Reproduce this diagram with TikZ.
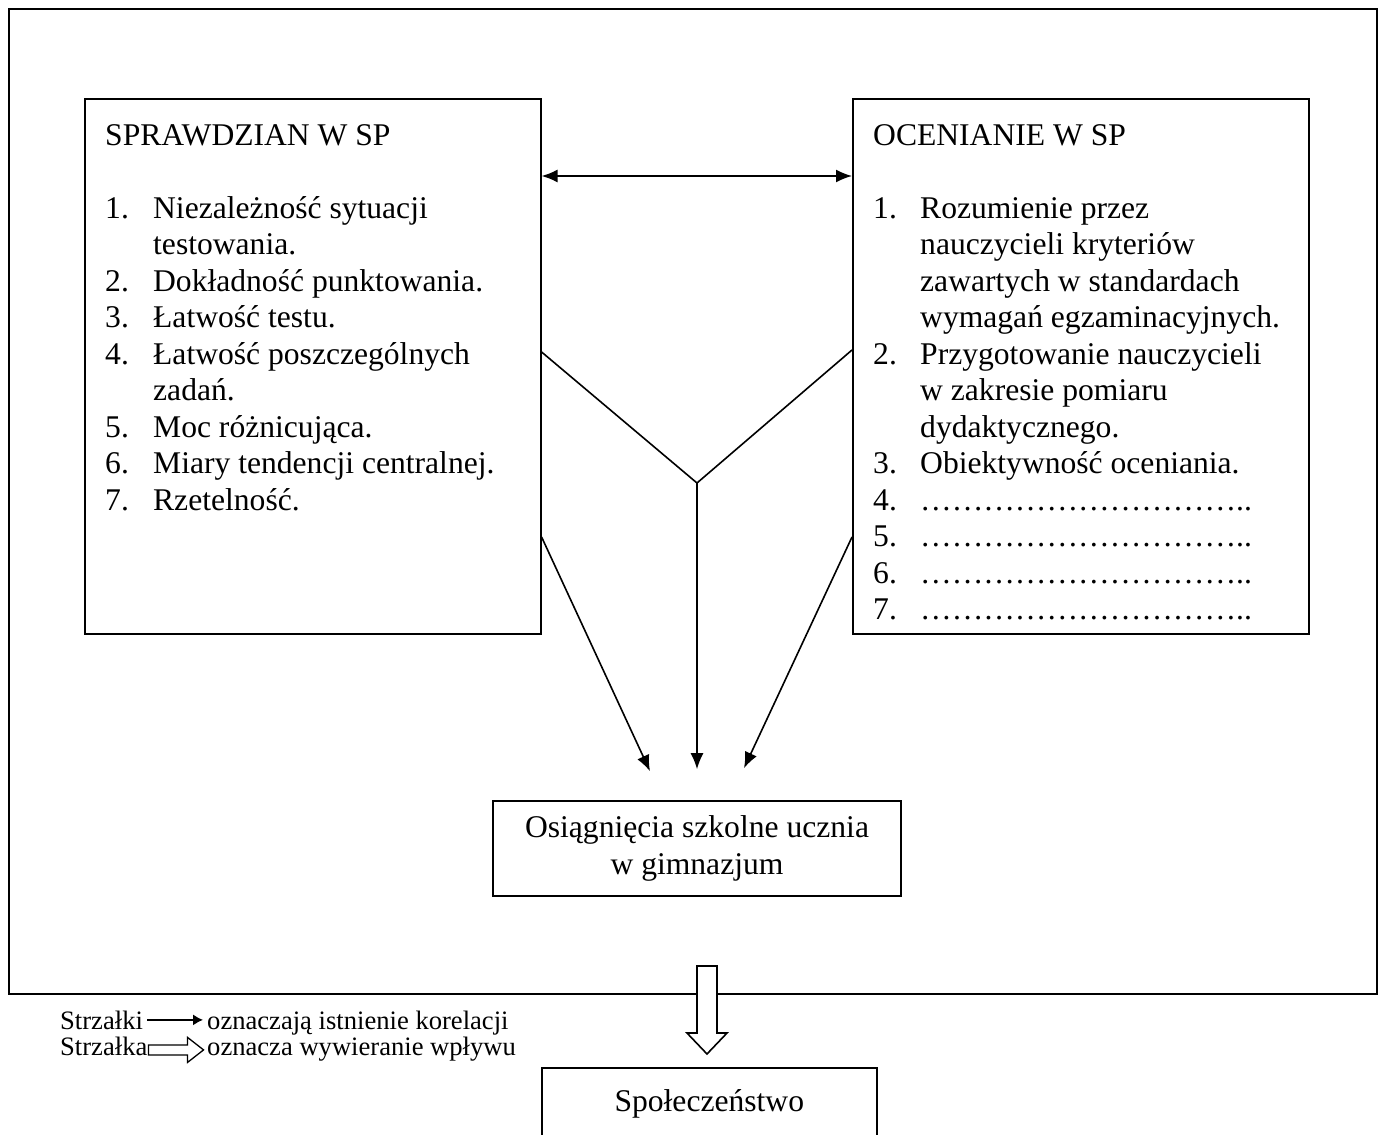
\documentclass[tikz,border=0pt]{standalone}
\usepackage{fontspec}
\setmainfont{Liberation Serif}
\usetikzlibrary{arrows.meta}
\tikzset{>={Latex[length=16pt,width=13pt]}}
\tikzset{
  box/.style={draw, line width=1.6pt, inner sep=0pt},
  bigtext/.style={font=\fontsize{31.6}{36.5}\selectfont, inner sep=0pt},
  legendtext/.style={font=\fontsize{26.6}{27}\selectfont, inner xsep=4pt, inner ysep=0pt},
  link/.style={line width=1.6pt},
  smalltip/.style={line width=1.3pt, -{Latex[length=10pt,width=11pt]}}
}
\newcommand{\wielokropek}{…}
\newcommand{\miejsce}{\wielokropek\wielokropek\wielokropek\wielokropek\wielokropek\wielokropek\wielokropek\wielokropek\wielokropek\wielokropek..}

\begin{document}
\begin{tikzpicture}[x=1pt, y=-1pt]
  \useasboundingbox (0,0) rectangle (1382,1135);
  \node[box, anchor=north west, minimum width=1368pt, minimum height=985pt] (frame) at (8,8) {};
  \node[box, anchor=north west, minimum width=456pt, minimum height=535pt] (sprawdzian) at (84,98) {};
  \node[box, anchor=north west, minimum width=456pt, minimum height=535pt] (ocenianie) at (852,98) {};
  \node[box, bigtext, align=center, minimum width=408pt, minimum height=95pt] (osiagniecia) at (697,848.5) {Osiągnięcia szkolne ucznia\\ w gimnazjum};
  \node[box, bigtext, anchor=north west, minimum width=335pt, minimum height=72pt] (spoleczenstwo) at (541,1067) {Społeczeństwo};

  \node[bigtext, anchor=north west] (sprawdzianTxt) at (105,119.5) {\begin{tabular}{@{}p{48pt}@{}l@{}}
    \multicolumn{2}{@{}l@{}}{SPRAWDZIAN W SP}\\
    & \\
    1. & Niezależność sytuacji\\
    & testowania.\\
    2. & Dokładność punktowania.\\
    3. & Łatwość testu.\\
    4. & Łatwość poszczególnych\\
    & zadań.\\
    5. & Moc różnicująca.\\
    6. & Miary tendencji centralnej.\\
    7. & Rzetelność.
  \end{tabular}};
  \begin{scope}
    \clip (ocenianie.north west) rectangle ([yshift=15pt]ocenianie.south east);
    \node[bigtext, anchor=north west] (ocenianieTxt) at (873,119.5) {\begin{tabular}{@{}p{47pt}@{}l@{}}
      \multicolumn{2}{@{}l@{}}{OCENIANIE W SP}\\
      & \\
      1. & Rozumienie przez\\
      & nauczycieli kryteriów\\
      & zawartych w standardach\\
      & wymagań egzaminacyjnych.\\
      2. & Przygotowanie nauczycieli\\
      & w zakresie pomiaru\\
      & dydaktycznego.\\
      3. & Obiektywność oceniania.\\
      4. & \miejsce\\
      5. & \miejsce\\
      6. & \miejsce\\
      7. & \miejsce
    \end{tabular}};
  \end{scope}

  \coordinate (vertex) at (697,483);
  \draw[link, <->] ([yshift=-78pt]sprawdzian.north east) -- ([yshift=-78pt]ocenianie.north west);
  \draw[link] ([yshift=-254pt]sprawdzian.north east) -- (vertex) -- ([yshift=-252pt]ocenianie.north west);
  \draw[link, ->] (vertex) -- ([yshift=31pt]osiagniecia.north);
  \draw[link, ->] ([yshift=-439pt]sprawdzian.north east) -- ([xshift=-47pt,yshift=29pt]osiagniecia.north);
  \draw[link, ->] ([yshift=-439pt]ocenianie.north west) -- ([xshift=47pt,yshift=32pt]osiagniecia.north);

  \coordinate (flow) at (707,966);
  \draw[link, fill=white] ([xshift=-10pt]flow) -- ++(0,67) -- ++(-10,0) -- ++(20,21) -- ++(20,-21) -- ++(-10,0) -- ++(0,-67) -- cycle;

  \node[legendtext, anchor=base west] (strzalki) at (56,1029) {Strzałki};
  \node[legendtext, anchor=base west] (korelacja) at (203,1029) {oznaczają istnienie korelacji};
  \node[legendtext, anchor=base west] (strzalka) at (56,1055) {Strzałka};
  \node[legendtext, anchor=base west] (wplyw) at (203,1055) {oznacza wywieranie wpływu};
  \draw[smalltip] (strzalki.east) -- (strzalki.east -| korelacja.west);
  \coordinate (hollow) at ([xshift=-3pt,yshift=-4pt]strzalka.east);
  \draw[line width=1.3pt] ([yshift=5pt]hollow) -- ++(39,0) -- ++(0,-7.5) -- ++(16,12.5) -- ++(-16,12.5) -- ++(0,-7.5) -- ++(-39,0) -- cycle;
\end{tikzpicture}
\end{document}
